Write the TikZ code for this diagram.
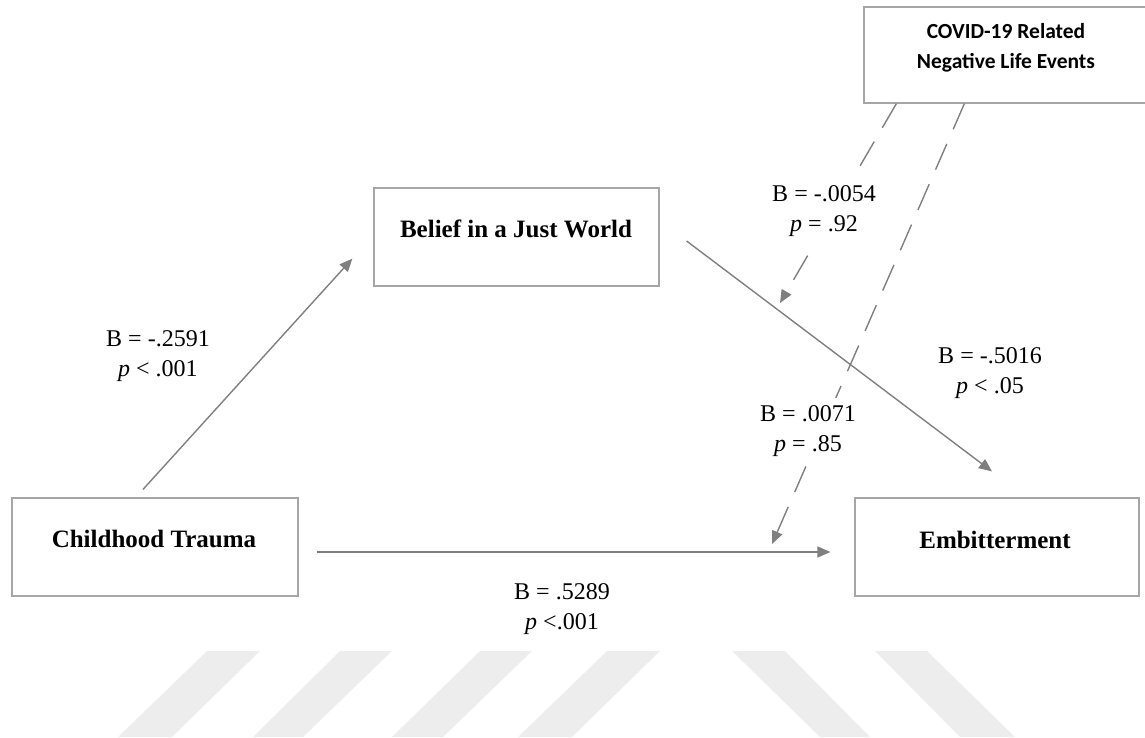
\documentclass[tikz,border=0pt]{standalone}
\usepackage{fontspec}
\setmainfont{Liberation Serif}
\newfontfamily\calibrifont{Carlito}
\usetikzlibrary{arrows.meta,calc}
\definecolor{boxgray}{HTML}{A6A6A6}
\definecolor{arrowgray}{HTML}{7F7F7F}
\definecolor{wmgray}{HTML}{EDEDED}
\begin{document}
\begin{tikzpicture}[x=1pt,y=-1pt,
  box/.style={draw=boxgray,line width=1.2pt,inner sep=0pt,minimum height=98pt,minimum width=285pt},
  boxtext/.style={font=\fontsize{25}{30}\selectfont\bfseries,anchor=base,inner sep=0pt},
  conn/.style={draw=arrowgray,line width=1.4pt,-{Triangle[length=13pt,width=11pt]}},
  moder/.style={conn,dash pattern=on 28pt off 16pt},
  coef/.style={font=\fontsize{24}{30}\selectfont,align=center,inner xsep=3pt,inner ysep=2pt},
  masked/.style={fill=white,inner ysep=7pt},
  wm/.style={fill=wmgray,draw=none}
]
\useasboundingbox (0,0) rectangle (1145,737);
% watermark
\fill[wm] (207,651) -- (260,651) -- (172,737) -- (118,737) -- cycle;
\fill[wm] (340,651) -- (392,651) -- (303,737) -- (253,737) -- cycle;
\fill[wm] (480,651) -- (532,651) -- (443,737) -- (392,737) -- cycle;
\fill[wm] (607,651) -- (660,651) -- (572,737) -- (518,737) -- cycle;
\fill[wm] (732,651) -- (785,651) -- (870,737) -- (820,737) -- cycle;
\fill[wm] (875,651) -- (927,651) -- (1015,737) -- (960,737) -- cycle;

% boxes
\node[box] (bjw) at (516.5,237) {};
\node[box,minimum width=286pt] (ct) at (155,547) {};
\node[box,minimum width=284pt] (emb) at (997,547) {};
\node[box,minimum width=284pt,minimum height=96pt] (covid) at (1006,55) {};

\node[boxtext] (bjwt) at (516,237) {Belief in a Just World};
\node[boxtext] (ctt) at (154,547) {Childhood Trauma};
\node[boxtext] (embt) at (995,548) {Embitterment};
\node[font=\calibrifont\fontsize{21.5}{30}\selectfont\bfseries,align=center,inner sep=0pt] (covidt) at (1006,48) {COVID-19 Related\\Negative Life Events};

% coordinates for moderation arrow tips
\coordinate (m1end) at (780,303);
\coordinate (m2end) at (772,544);

% main paths
\draw[conn] ($(ct.north)+(-12,-8)$) -- ($(bjw.south west)+(-21,-28)$);
\draw[conn] ($(bjw.east)+(27,4)$) -- ($(emb.north)+(-5,-26)$);
\draw[conn] ($(ct.east)+(18,5)$) -- ($(emb.west)+(-24,5)$);

% moderation paths
\draw[moder] ($(covid.south west)+(33,0)$) -- (m1end);
\draw[moder] ($(covid.south west)+(101,0)$) -- (m2end);

% coefficients
\node[coef] (l1) at (158,356.5) {B = -.2591\\\textit{p} < .001};
\node[coef,masked] (l2) at (824,211.5) {B = -.0054\\\textit{p} = .92};
\node[coef] (l3) at (990,373.5) {B = -.5016\\\textit{p} < .05};
\node[coef,masked] (l4) at (808,431) {B = .0071\\\textit{p} = .85};
\node[coef] (l5) at (562,609.5) {B = .5289\\\textit{p} <.001};
\end{tikzpicture}
\end{document}
